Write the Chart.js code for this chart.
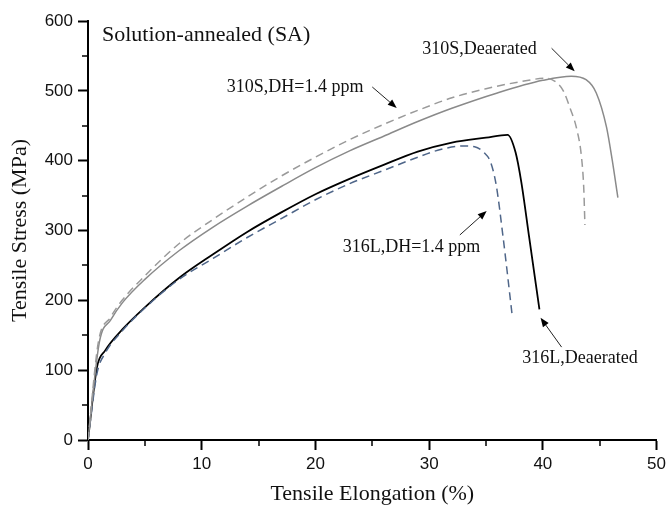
<!DOCTYPE html>
<html>
<head>
<meta charset="utf-8">
<script src="https://cdn.jsdelivr.net/npm/chart.js@4"></script>
<style>
  body { margin: 0; background: #fff; }
  canvas { display: block; }
</style>
</head>
<body>
<canvas id="c" width="670" height="509"></canvas>
<script>
// tick values
const xTicks = [0, 10, 20, 30, 40, 50];
const yTicks = [0, 100, 200, 300, 400, 500, 600];
const xMinor = [5, 15, 25, 35, 45];
const yMinor = [50, 150, 250, 350, 450, 550];

// curves: elongation (%) / stress (MPa)
const l316DeaX = [0, 0.8, 1.5, 3, 5, 8, 11, 14, 17, 20, 23, 26, 29, 32, 35, 36.9, 37.6, 38.1, 38.8, 39.7];
const l316DeaY = [0, 105, 128, 158, 190, 232, 266, 298, 326, 352, 374, 394, 413, 426, 433, 437, 412, 370, 290, 187];

const l316DhX = [0, 0.8, 1.5, 3, 5, 8, 11, 14, 17, 20, 23, 26, 29, 31, 33, 34, 34.8, 35.4, 35.9, 36.5, 37.3];
const l316DhY = [0, 96, 124, 156, 189, 230, 260, 290, 317, 344, 367, 386, 405, 416, 421, 420, 412, 398, 365, 291, 179];

const s310DeaX = [0, 1.0, 2, 3, 5, 8, 11, 14, 17, 20, 23, 26, 29, 32, 36, 40, 42.5, 43.8, 44.7, 45.6, 46.1, 46.6];
const s310DeaY = [0, 140, 172, 196, 230, 271, 305, 335, 363, 390, 414, 435, 456, 475, 497, 515, 521, 516, 497, 448, 401, 347];

const s310DhX = [0, 0.9, 2, 3, 5, 8, 11, 14, 17, 20, 23, 26, 29, 32, 35, 38, 40.3, 41.2, 41.8, 42.4, 43, 43.4, 43.6, 43.7];
const s310DhY = [0, 139, 176, 200, 235, 281, 316, 348, 378, 405, 430, 452, 472, 490, 503, 513, 518, 512, 500, 475, 444, 405, 360, 308];

// annotation texts, anchored in data units
const noteText = ['Solution-annealed (SA)', '310S,DH=1.4 ppm', '310S,Deaerated', '316L,DH=1.4 ppm', '316L,Deaerated'];
const noteX = [1.23, 12.2, 29.4, 22.4, 38.2];
const noteY = [580, 505, 560, 276, 117];
const noteSize = [22, 18, 18, 18, 18];
// arrows: from (x0,y0) to tip (x1,y1)
const arrowX0 = [25.0, 40.77, 32.7, 41.65];
const arrowY0 = [505.5, 561, 293.6, 133];
const arrowX1 = [27.15, 42.8, 35.06, 39.8];
const arrowY1 = [475.4, 528, 328, 175];

function pts(xs, ys) { return xs.map((x, i) => ({x: x, y: ys[i]})); }

const serif = "'Liberation Serif', 'Times New Roman', serif";
const sans = "'Liberation Sans', Arial, sans-serif";

const extras = {
    id: 'extras',
    afterDraw(chart) {
        const ctx = chart.ctx;
        const xs = chart.scales.x, ys = chart.scales.y;
        ctx.save();
        // minor ticks
        ctx.strokeStyle = '#000';
        ctx.lineWidth = 1.5;
        ctx.beginPath();
        xMinor.forEach(v => {
            const p = Math.round(xs.getPixelForValue(v));
            ctx.moveTo(p, ys.bottom); ctx.lineTo(p, ys.bottom + 6);
        });
        yMinor.forEach(v => {
            const p = Math.round(ys.getPixelForValue(v));
            ctx.moveTo(xs.left, p); ctx.lineTo(xs.left - 6, p);
        });
        ctx.stroke();
        // labels
        ctx.fillStyle = '#111';
        ctx.textAlign = 'left';
        ctx.textBaseline = 'middle';
        noteText.forEach((t, i) => {
            ctx.font = noteSize[i] + 'px ' + serif;
            ctx.fillText(t, xs.getPixelForValue(noteX[i]), ys.getPixelForValue(noteY[i]));
        });
        // arrows
        ctx.lineWidth = 1;
        arrowX0.forEach((v, i) => {
            const x0 = xs.getPixelForValue(v), y0 = ys.getPixelForValue(arrowY0[i]);
            const x1 = xs.getPixelForValue(arrowX1[i]), y1 = ys.getPixelForValue(arrowY1[i]);
            const a = Math.atan2(y1 - y0, x1 - x0);
            const hl = 9, hw = 3.5;
            const bx = x1 - hl * Math.cos(a), by = y1 - hl * Math.sin(a);
            ctx.strokeStyle = '#222';
            ctx.beginPath();
            ctx.moveTo(x0, y0); ctx.lineTo(bx, by);
            ctx.stroke();
            ctx.fillStyle = '#000';
            ctx.beginPath();
            ctx.moveTo(x1, y1);
            ctx.lineTo(bx + hw * Math.sin(a), by - hw * Math.cos(a));
            ctx.lineTo(bx - hw * Math.sin(a), by + hw * Math.cos(a));
            ctx.closePath();
            ctx.fill();
        });
        ctx.restore();
    }
};

new Chart(document.getElementById('c').getContext('2d'), {
    type: 'scatter',
    data: {
        datasets: [
            { label: '310S,DH=1.4 ppm', data: pts(s310DhX, s310DhY), borderColor: '#9a9a9a', borderDash: [8, 5], borderWidth: 1.5 },
            { label: '310S,Deaerated', data: pts(s310DeaX, s310DeaY), borderColor: '#8a8a8a', borderWidth: 1.5 },
            { label: '316L,DH=1.4 ppm', data: pts(l316DhX, l316DhY), borderColor: '#4f6689', borderDash: [8, 5], borderWidth: 1.5 },
            { label: '316L,Deaerated', data: pts(l316DeaX, l316DeaY), borderColor: '#000000', borderWidth: 1.8 }
        ].map(d => Object.assign(d, { showLine: true, pointRadius: 0, cubicInterpolationMode: 'monotone', fill: false }))
    },
    options: {
        responsive: false,
        animation: false,
        devicePixelRatio: 1,
        layout: { padding: { top: 21, right: 13, left: 0, bottom: 0 } },
        plugins: { legend: { display: false }, tooltip: { enabled: false } },
        scales: {
            x: {
                type: 'linear', min: 0, max: 50,
                afterBuildTicks: s => { s.ticks = xTicks.map(v => ({value: v})); },
                afterFit: s => { s.height = 69; },
                border: { display: true, color: '#000', width: 2 },
                grid: { drawOnChartArea: false, drawTicks: true, tickLength: 10, tickWidth: 2, tickColor: '#000' },
                ticks: { color: '#111', padding: 4, maxRotation: 0, font: { family: sans, size: 17 } },
                title: { display: true, text: 'Tensile Elongation (%)', color: '#111', padding: { top: 0, bottom: 2 }, font: { family: serif, size: 22, lineHeight: 1.2 } }
            },
            y: {
                type: 'linear', min: 0, max: 600,
                afterBuildTicks: s => { s.ticks = yTicks.map(v => ({value: v})); },
                afterFit: s => { s.width = 88; },
                border: { display: true, color: '#000', width: 2 },
                grid: { drawOnChartArea: false, drawTicks: true, tickLength: 10, tickWidth: 2, tickColor: '#000' },
                ticks: { color: '#111', padding: 5, font: { family: sans, size: 17 } },
                title: { display: true, text: 'Tensile Stress (MPa)', color: '#111', padding: { top: 7, bottom: 0 }, font: { family: serif, size: 22, lineHeight: 1.2 } }
            }
        }
    },
    plugins: [extras]
});
</script>
</body>
</html>
